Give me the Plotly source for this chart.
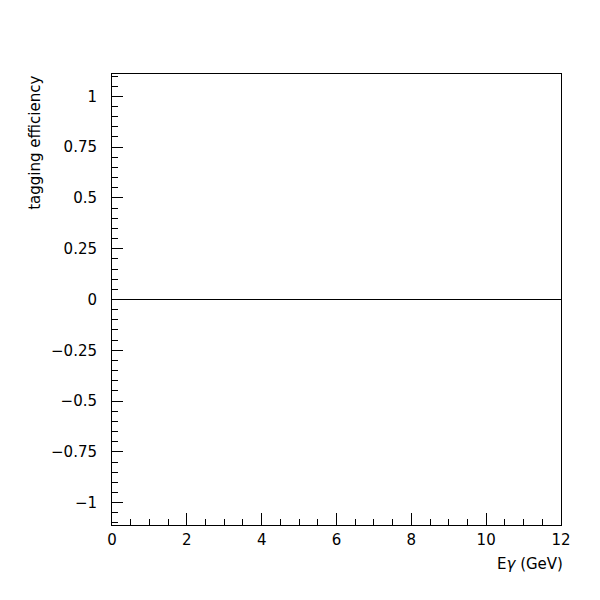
import plotly.graph_objects as go

# Data: tagging efficiency vs photon energy (all zero)
energy_gev = [0, 12]
tagging_efficiency = [0, 0]

x_tickvals = [0, 2, 4, 6, 8, 10, 12]
x_ticktext = ["0", "2", "4", "6", "8", "10", "12"]
y_tickvals = [-1, -0.75, -0.5, -0.25, 0, 0.25, 0.5, 0.75, 1]
y_ticktext = ["\u22121", "\u22120.75", "\u22120.5", "\u22120.25", "0", "0.25", "0.5", "0.75", "1"]

font_family = "DejaVu Sans, Liberation Sans, Arial, sans-serif"

fig = go.Figure()
fig.add_trace(go.Scatter(
    x=energy_gev, y=tagging_efficiency, mode="lines",
    line=dict(color="black", width=1), showlegend=False, hoverinfo="skip",
))

fig.update_layout(
    width=600, height=600,
    paper_bgcolor="white", plot_bgcolor="white",
    margin=dict(l=104, r=47, t=66, b=83),
    font=dict(family=font_family, size=15, color="black"),
    xaxis=dict(
        range=[0, 12], tickvals=x_tickvals, ticktext=x_ticktext,
        ticks="inside", ticklen=12, tickwidth=1, tickcolor="black",
        minor=dict(ticks="inside", ticklen=6, dtick=0.5, tick0=0, tickcolor="black", tickwidth=1),
        showline=True, linecolor="black", linewidth=1, mirror=True,
        showgrid=False, zeroline=False, ticklabelstandoff=1,
    ),
    yaxis=dict(
        range=[-1.11, 1.11], tickvals=y_tickvals, ticktext=y_ticktext,
        ticks="inside", ticklen=11, tickwidth=1, tickcolor="black",
        minor=dict(ticks="inside", ticklen=6, dtick=0.05, tick0=0, tickcolor="black", tickwidth=1),
        showline=True, linecolor="black", linewidth=1, mirror=True,
        showgrid=False, zeroline=False, ticklabelstandoff=11,
    ),
    annotations=[
        dict(text="E<i>\u03b3</i> (GeV)", xref="paper", yref="paper", x=1.008, y=-0.087,
             xanchor="right", yanchor="middle", showarrow=False, font=dict(size=15)),
        dict(text="tagging efficiency", xref="paper", yref="paper", x=-0.172, y=1.0,
             xanchor="center", yanchor="top", textangle=-90, showarrow=False, font=dict(size=15)),
    ],
)

fig.write_html("out.html")
